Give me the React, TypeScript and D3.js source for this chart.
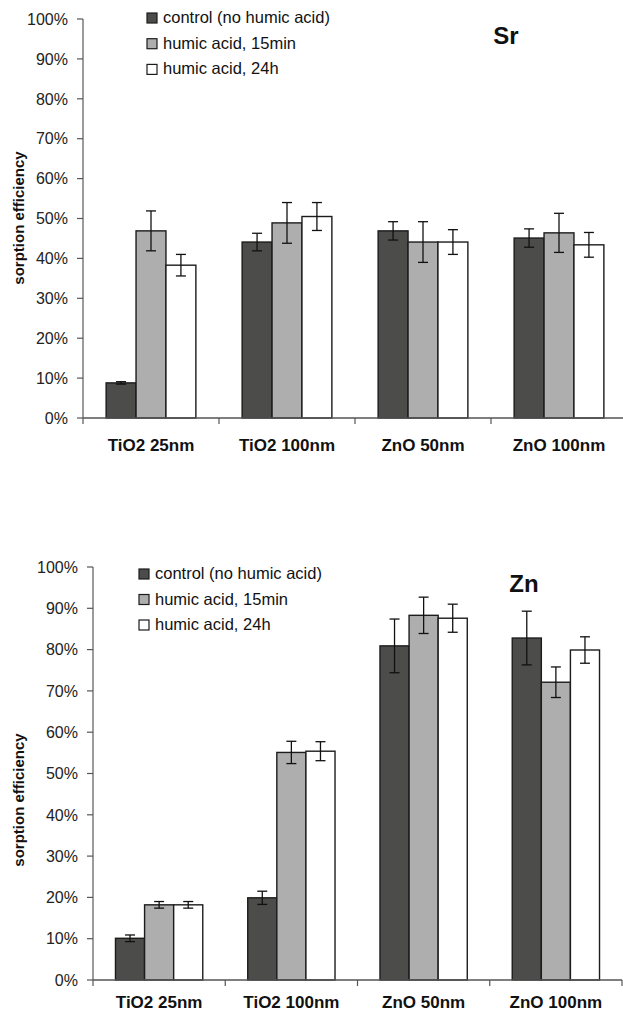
import React from "react";
import * as d3 from "d3";

const categories = ["TiO2 25nm", "TiO2 100nm", "ZnO 50nm", "ZnO 100nm"];
const seriesNames = ["control (no humic acid)", "humic acid, 15min", "humic acid, 24h"];
const seriesColors = ["#4c4c4a", "#adaead", "#ffffff"];
const yTicks = [0, 10, 20, 30, 40, 50, 60, 70, 80, 90, 100];

// Sr panel
const srControl = [8.8, 44.1, 46.9, 45.1];
const srControlErr = [0.3, 2.2, 2.3, 2.3];
const srHumic15 = [46.9, 48.9, 44.1, 46.4];
const srHumic15Err = [5.0, 5.1, 5.1, 4.9];
const srHumic24 = [38.3, 50.5, 44.1, 43.4];
const srHumic24Err = [2.7, 3.5, 3.1, 3.1];

// Zn panel
const znControl = [10.1, 19.9, 80.9, 82.8];
const znControlErr = [0.8, 1.6, 6.5, 6.5];
const znHumic15 = [18.2, 55.1, 88.3, 72.1];
const znHumic15Err = [0.8, 2.7, 4.4, 3.7];
const znHumic24 = [18.2, 55.4, 87.6, 79.9];
const znHumic24Err = [0.8, 2.3, 3.4, 3.2];

const FONT = "'Liberation Sans', Arial, Helvetica, sans-serif";

type Layout = {
  left: number;
  right: number;
  top: number;
  bottom: number;
  labelOffset: number;
  legendX: number;
  legendY: number;
  legendStep: number;
  title: string;
  titleX: number;
  titleY: number;
  yTitleX: number;
  yTitleY: number;
};

function Panel({ values, errors, layout }: { values: number[][]; errors: number[][]; layout: Layout }) {
  const { left, right, top, bottom } = layout;

  const x0 = d3.scaleBand().domain(categories).range([left, right]).paddingInner(0.34).paddingOuter(0.17);
  const x1 = d3.scaleBand().domain(seriesNames).range([0, x0.bandwidth()]);
  const y = d3.scaleLinear().domain([0, 100]).range([bottom, top]);
  const step = x0.step();
  const boundaries = d3.range(categories.length + 1).map((i) => left + i * step);

  return (
    <g>
      {/* bars */}
      {categories.map((c, ci) => (
        <g key={c} transform={`translate(${x0(c)},0)`}>
          {seriesNames.map((s, si) => {
            const v = values[si][ci];
            const e = errors[si][ci];
            const bx = x1(s)!;
            const cx = bx + x1.bandwidth() / 2;
            return (
              <g key={s}>
                <rect
                  x={bx}
                  y={y(v)}
                  width={x1.bandwidth()}
                  height={y(0) - y(v)}
                  fill={seriesColors[si]}
                  stroke="#1c1c1c"
                  strokeWidth={1.4}
                />
                <g stroke="#111" strokeWidth={1.3}>
                  <line x1={cx} x2={cx} y1={y(v + e)} y2={y(v - e)} />
                  <line x1={cx - 5} x2={cx + 5} y1={y(v + e)} y2={y(v + e)} />
                  <line x1={cx - 5} x2={cx + 5} y1={y(v - e)} y2={y(v - e)} />
                </g>
              </g>
            );
          })}
        </g>
      ))}

      {/* y axis */}
      <line x1={left} x2={left} y1={top} y2={bottom} stroke="#7a7a7a" strokeWidth={1.5} />
      {yTicks.map((t) => (
        <g key={t}>
          <line x1={left - 6} x2={left} y1={y(t)} y2={y(t)} stroke="#555" strokeWidth={1.2} />
          <text
            x={left - 15}
            y={y(t)}
            dy="0.36em"
            textAnchor="end"
            fontFamily={FONT}
            fontSize={16}
            fill="#222"
          >
            {t}%
          </text>
        </g>
      ))}

      {/* x axis */}
      <line x1={left} x2={right} y1={bottom} y2={bottom} stroke="#555" strokeWidth={1.5} />
      {boundaries.map((b, i) => (
        <line key={i} x1={b} x2={b} y1={bottom} y2={bottom + 6} stroke="#555" strokeWidth={1.2} />
      ))}
      {categories.map((c) => (
        <text
          key={c}
          x={x0(c)! + x0.bandwidth() / 2}
          y={bottom + layout.labelOffset}
          textAnchor="middle"
          fontFamily={FONT}
          fontSize={17}
          fontWeight="bold"
          fill="#111"
        >
          {c}
        </text>
      ))}

      {/* y title */}
      <text
        transform={`translate(${layout.yTitleX},${layout.yTitleY}) rotate(-90)`}
        textAnchor="middle"
        fontFamily={FONT}
        fontSize={15}
        fontWeight="bold"
        fill="#111"
      >
        sorption efficiency
      </text>

      {/* legend */}
      {seriesNames.map((s, si) => {
        const by = layout.legendY + si * layout.legendStep;
        return (
          <g key={s}>
            <rect x={layout.legendX} y={by - 10} width={10} height={10} fill={seriesColors[si]} stroke="#1c1c1c" strokeWidth={1.2} />
            <text x={layout.legendX + 16} y={by} fontFamily={FONT} fontSize={16.5} fill="#111">
              {s}
            </text>
          </g>
        );
      })}

      {/* panel title */}
      <text x={layout.titleX} y={layout.titleY} textAnchor="middle" fontFamily={FONT} fontSize={24} fontWeight="bold" fill="#111">
        {layout.title}
      </text>
    </g>
  );
}

const srLayout: Layout = {
  left: 83,
  right: 627,
  top: 19,
  bottom: 418,
  labelOffset: 33,
  legendX: 147,
  legendY: 23,
  legendStep: 25.7,
  title: "Sr",
  titleX: 506,
  titleY: 44,
  yTitleX: 24,
  yTitleY: 218,
};

const znLayout: Layout = {
  left: 93,
  right: 622,
  top: 567,
  bottom: 980,
  labelOffset: 28,
  legendX: 139,
  legendY: 579,
  legendStep: 25.5,
  title: "Zn",
  titleX: 524,
  titleY: 592,
  yTitleX: 24,
  yTitleY: 800,
};

export default function App() {
  return (
    <svg
      width={623}
      height={1015}
      style={{ position: "absolute", left: 0, top: 0, background: "#fff" }}
    >
      <rect width={623} height={1015} fill="#fff" />
      <Panel
        values={[srControl, srHumic15, srHumic24]}
        errors={[srControlErr, srHumic15Err, srHumic24Err]}
        layout={srLayout}
      />
      <Panel
        values={[znControl, znHumic15, znHumic24]}
        errors={[znControlErr, znHumic15Err, znHumic24Err]}
        layout={znLayout}
      />
    </svg>
  );
}
